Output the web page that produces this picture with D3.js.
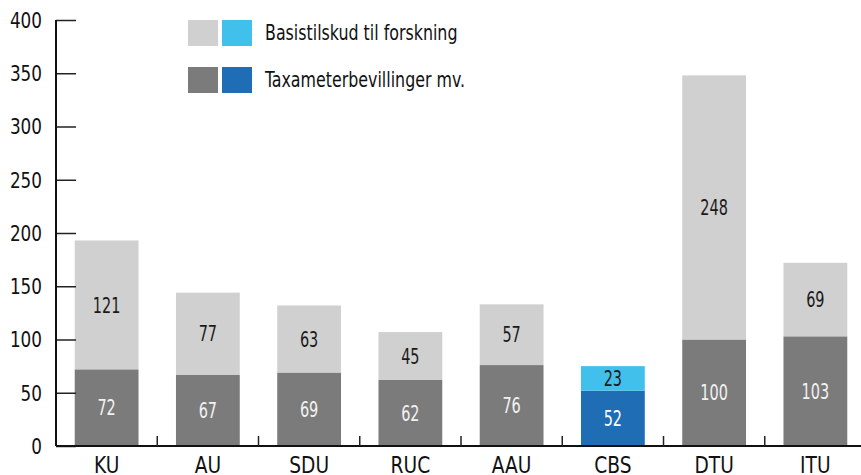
<!DOCTYPE html>
<html>
<head>
<meta charset="utf-8">
<script src="https://cdn.jsdelivr.net/npm/d3@7"></script>
<style>
  body { margin: 0; background: #fff; }
  svg text { font-family: "DejaVu Sans Condensed", "DejaVu Sans", sans-serif; font-stretch: condensed; }
</style>
</head>
<body>
<svg id="chart" width="861" height="475"></svg>
<script>
// data
var universities = ['KU', 'AU', 'SDU', 'RUC', 'AAU', 'CBS', 'DTU', 'ITU'];
var taxameter = [72, 67, 69, 62, 76, 52, 100, 103];
var basistilskud = [121, 77, 63, 45, 57, 23, 248, 69];
var yTicks = [0, 50, 100, 150, 200, 250, 300, 350, 400];
var highlight = 'CBS';

var svg = d3.select('#chart');

var x = d3.scaleBand()
    .domain(universities)
    .range([56, 866])
    .paddingInner(0.37)
    .paddingOuter(0.185);

var y = d3.scaleLinear()
    .domain([0, 400])
    .range([446, 20]);

var rows = universities.map((u, i) => ({ name: u, tax: taxameter[i], basis: basistilskud[i] }));

function lowColor(d) { return d.name == highlight ? '#1f6db5' : '#7b7b7b'; }
function highColor(d) { return d.name == highlight ? '#41c0eb' : '#d0d0d0'; }

// narrow the text, the original uses a very condensed face
function squeeze(sel, k) {
    sel.attr('transform', function () {
        var tx = +this.getAttribute('x'), ty = +this.getAttribute('y');
        return 'translate(' + tx + ',' + ty + ') scale(' + k + ',1) translate(' + (-tx) + ',' + (-ty) + ')';
    });
}

// bars - bottom part
svg.selectAll('.bar-tax')
    .data(rows)
    .enter()
    .append('rect')
    .attr('class', 'bar-tax')
    .attr('x', d => x(d.name))
    .attr('width', x.bandwidth())
    .attr('y', d => y(d.tax))
    .attr('height', d => y(0) - y(d.tax))
    .attr('fill', lowColor);

// bars - top part
svg.selectAll('.bar-basis')
    .data(rows)
    .enter()
    .append('rect')
    .attr('class', 'bar-basis')
    .attr('x', d => x(d.name))
    .attr('width', x.bandwidth())
    .attr('y', d => y(d.tax + d.basis))
    .attr('height', d => y(d.tax) - y(d.tax + d.basis))
    .attr('fill', highColor);

// value labels
svg.selectAll('.lbl-tax')
    .data(rows)
    .enter()
    .append('text')
    .attr('class', 'val')
    .attr('x', d => x(d.name) + x.bandwidth() / 2)
    .attr('y', d => y(d.tax / 2))
    .attr('dy', '0.35em')
    .attr('text-anchor', 'middle')
    .attr('font-size', 22)
    .attr('fill', d => d.name == highlight ? '#fff' : '#f2f2f2')
    .text(d => d.tax);

svg.selectAll('.lbl-basis')
    .data(rows)
    .enter()
    .append('text')
    .attr('class', 'val')
    .attr('x', d => x(d.name) + x.bandwidth() / 2)
    .attr('y', d => y(d.tax + d.basis / 2))
    .attr('dy', '0.35em')
    .attr('text-anchor', 'middle')
    .attr('font-size', 22)
    .attr('fill', '#1a1a1a')
    .text(d => d.basis);

// y axis, ticks pointing inward
var yAxis = svg.append('g')
    .attr('transform', 'translate(56,0)')
    .call(d3.axisRight(y).tickValues(yTicks).tickSize(20).tickFormat(''));
yAxis.select('.domain').remove();
yAxis.selectAll('line').attr('stroke', '#222').attr('stroke-width', 1.5);

svg.append('line')
    .attr('x1', 56).attr('x2', 56)
    .attr('y1', y(400)).attr('y2', y(0))
    .attr('stroke', '#111').attr('stroke-width', 2);

svg.selectAll('.ytick-label')
    .data(yTicks)
    .enter()
    .append('text')
    .attr('class', 'ylbl')
    .attr('x', 42)
    .attr('y', d => y(d))
    .attr('dy', '0.36em')
    .attr('text-anchor', 'end')
    .attr('font-size', 22)
    .attr('fill', '#111')
    .text(d => d);

// x axis
svg.append('line')
    .attr('x1', 56).attr('x2', 861)
    .attr('y1', y(0)).attr('y2', y(0))
    .attr('stroke', '#111').attr('stroke-width', 2);

svg.selectAll('.xtick')
    .data(universities.slice(1))
    .enter()
    .append('line')
    .attr('x1', d => x(d) - x.step() * x.paddingInner() / 2)
    .attr('x2', d => x(d) - x.step() * x.paddingInner() / 2)
    .attr('y1', y(0))
    .attr('y2', y(0) - 10)
    .attr('stroke', '#222')
    .attr('stroke-width', 1.5);

svg.selectAll('.xlabel')
    .data(universities)
    .enter()
    .append('text')
    .attr('class', 'xlbl')
    .attr('x', d => x(d) + x.bandwidth() / 2)
    .attr('y', 473)
    .attr('text-anchor', 'middle')
    .attr('font-size', 23)
    .attr('fill', '#111')
    .text(d => d);

// legend
var legend = [
    { label: 'Basistilskud til forskning', colors: ['#d0d0d0', '#41c0eb'], y: 20 },
    { label: 'Taxameterbevillinger mv.', colors: ['#7b7b7b', '#1f6db5'], y: 67 }
];
legend.forEach(l => {
    l.colors.forEach((c, j) => {
        svg.append('rect')
            .attr('x', 188 + j * 34)
            .attr('y', l.y)
            .attr('width', 30)
            .attr('height', 26)
            .attr('fill', c);
    });
    svg.append('text')
        .attr('class', 'leg')
        .attr('x', 265)
        .attr('y', l.y + 13)
        .attr('dy', '0.35em')
        .attr('font-size', 21)
        .attr('fill', '#111')
        .text(l.label);
});

svg.selectAll('text.val').call(squeeze, 0.73);
svg.selectAll('text.ylbl').call(squeeze, 0.85);
svg.selectAll('text.xlbl').call(squeeze, 0.9);
svg.selectAll('text.leg').call(squeeze, 0.84);
</script>
</body>
</html>
